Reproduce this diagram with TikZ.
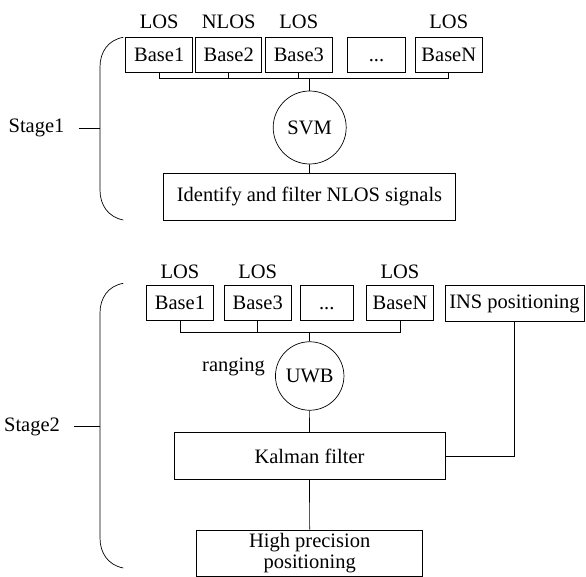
\documentclass[tikz,border=0pt]{standalone}
\usepackage{fontspec}
\setmainfont{Liberation Serif}
\usepackage{tikz}
\def\firstbrace{(123.3,37.3) .. controls (108,40) and (100,52) .. (100,67) -- (100,190) .. controls (100,205) and (108,217) .. (123.3,220)}
\def\secondbrace{(123.3,283.3) .. controls (108,286) and (100,298) .. (100,313) -- (100,538) .. controls (100,553) and (108,565) .. (123.3,568)}
\tikzset{
  box/.style={draw, minimum height=35pt, inner sep=1pt},
  ring/.style={draw, circle, inner sep=0pt},
  tag/.style={inner sep=0pt},
}

\begin{document}
\begin{tikzpicture}[x=1pt,y=-1pt,line width=0.7pt,font=\fontsize{20.5}{21}\selectfont]
    \useasboundingbox (0,0) rectangle (586,577);
    % stage 1
    \node[box,minimum width=67pt] (aBase1) at (159.2,54.8) {Base1};
    \node[box,minimum width=66pt] (aBase2) at (228.7,54.8) {Base2};
    \node[box,minimum width=67.7pt] (aBase3) at (298.8,54.8) {Base3};
    \node[box,minimum width=58.4pt] (aDots) at (376.5,54.8) {\vphantom{Base1}...};
    \node[box,minimum width=67pt] (aBaseN) at (448.8,54.8) {BaseN};
    \node[tag] (aLos1) at (159.2,22) {LOS};
    \node[tag] (aLos2) at (228.7,22) {NLOS};
    \node[tag] (aLos3) at (298.8,22) {LOS};
    \node[tag] (aLosN) at (448.8,22) {LOS};
    \coordinate (aBus) at (309.7,78.3);
    \draw (aBase1.south) |- (aBus) -| (aBaseN.south);
    \draw (aBase2.south) -- (aBase2.south |- aBus);
    \draw (aBase3.south) -- (aBase3.south |- aBus);
    \node[ring,minimum size=73pt] (svm) at (309.7,127.5) {SVM};
    \draw (aBus) -- (svm);
    \node[box,minimum width=292pt,minimum height=46.7pt] (filter) at (309.5,196.7) {Identify and filter NLOS signals};
    \draw (svm) -- (filter);
    \node[tag] (stage1) at (36.5,128.3) {Stage1};
    \coordinate (brace1) at (100,128.3);
    \draw ([xshift=14pt]stage1.east) -- (brace1);
    \draw \firstbrace;
    % stage 2
    \node[box,minimum width=66.7pt,minimum height=34.3pt] (bBase1) at (180,302.8) {Base1};
    \node[box,minimum width=66.7pt,minimum height=34.3pt] (bBase3) at (257.7,302.8) {Base3};
    \node[box,minimum width=53.3pt,minimum height=34.3pt] (bDots) at (326.7,302.8) {\vphantom{Base1}...};
    \node[box,minimum width=66.7pt,minimum height=34.3pt] (bBaseN) at (400,302.8) {BaseN};
    \node[box,minimum width=139pt,minimum height=36pt] (ins) at (514.5,303.7) {INS positioning};
    \node[tag] (bLos1) at (180,272) {LOS};
    \node[tag] (bLos3) at (257.7,272) {LOS};
    \node[tag] (bLosN) at (400,272) {LOS};
    \coordinate (bBus) at (309.7,332.7);
    \draw (bBase1.south) |- (bBus) -| (bBaseN.south);
    \draw (bBase3.south) -- (bBase3.south |- bBus);
    \node[ring,minimum size=68.5pt] (uwb) at (309.7,376) {UWB};
    \node[tag] (ranging) at (233.5,366.7) {ranging};
    \draw (bBus) -- (uwb);
    \node[box,minimum width=271pt,minimum height=46.7pt] (kalman) at (309.5,456) {Kalman filter};
    \draw (uwb) -- (kalman);
    \draw (ins.south) |- (kalman.east);
    \node[box,minimum width=226pt,minimum height=46pt,align=center] (high) at (309.7,553) {High precision\\positioning};
    \draw (kalman) -- (high);
    \node[tag] (stage2) at (32,426.7) {Stage2};
    \coordinate (brace2) at (100,426.7);
    \draw ([xshift=14pt]stage2.east) -- (brace2);
    \draw \secondbrace;
\end{tikzpicture}
\end{document}
